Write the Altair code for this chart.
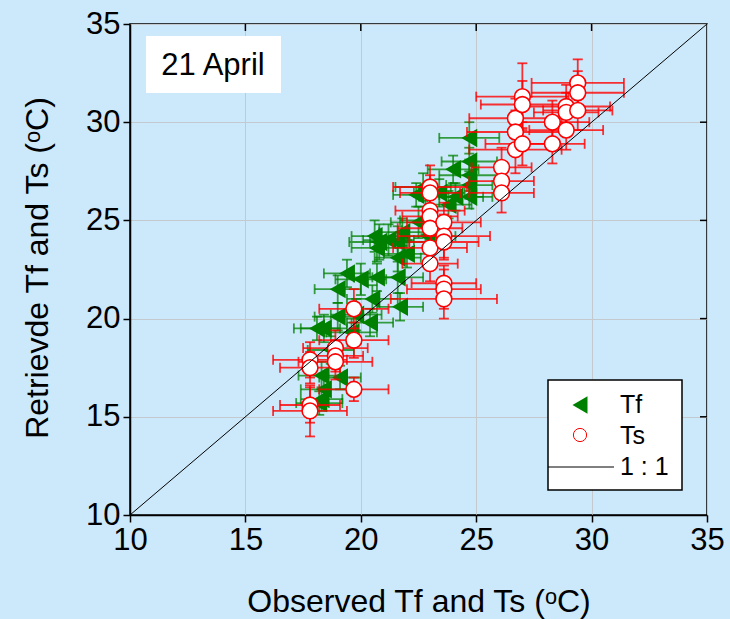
import altair as alt
import pandas as pd

# ---------------- data ----------------
tf_x = [24.7, 24.7, 24.0, 24.7, 24.7, 24.1, 24.7, 22.7, 22.4, 22.8, 22.5, 21.8, 20.8, 20.7,
        21.6, 21.6, 21.6, 20.7, 20.0, 19.0, 20.5, 21.7, 19.8, 19.0, 20.4, 19.6, 18.1, 18.4,
        18.3, 19.1, 18.4, 18.3, 18.2, 23.4, 23.8, 22.9, 21.2, 22.0, 20.6, 18.7, 19.4]
tf_y = [29.2, 28.0, 27.6, 27.3, 26.8, 26.2, 26.2, 26.7, 26.3, 25.0, 24.9, 24.4, 23.9, 23.6,
        23.9, 23.1, 22.1, 22.1, 22.0, 21.5, 21.0, 20.6, 20.2, 20.1, 19.8, 19.3, 19.5, 19.5,
        17.1, 17.0, 16.4, 15.9, 15.7, 26.4, 25.8, 24.2, 24.0, 23.3, 24.2, 18.4, 22.3]
tf_xerr = [1.3, 1.2, 1.1, 1.3, 1.0, 1.2, 1.0, 1.2, 1.0, 1.1, 1.2, 1.0, 1.3, 1.1,
           1.2, 1.0, 1.1, 1.0, 1.1, 1.0, 1.1, 1.0, 1.1, 1.0, 1.0, 1.1, 1.0, 1.0,
           1.0, 0.9, 1.0, 0.9, 1.0, 1.1, 1.0, 1.2, 1.1, 1.0, 1.0, 1.0, 1.0]
tf_yerr = [0.8, 0.7, 0.7, 0.8, 0.7, 0.7, 0.6, 0.7, 0.6, 0.7, 0.8, 0.7, 0.9, 0.7,
           0.8, 0.7, 0.8, 0.7, 0.8, 0.7, 0.7, 0.7, 0.8, 0.7, 0.7, 0.7, 0.6, 0.7,
           0.7, 0.6, 0.7, 0.6, 0.6, 0.7, 0.7, 0.8, 0.8, 0.7, 0.8, 0.7, 0.7]

ts_x = [17.8, 17.8, 17.8, 17.8, 18.9, 18.9, 18.9, 19.7, 19.7, 19.7, 23.0, 23.0, 23.0, 23.0,
        23.0, 23.0, 23.0, 23.6, 23.6, 23.6, 23.6, 23.6, 23.6, 26.1, 26.1, 26.1, 26.7, 26.7,
        26.7, 27.0, 27.0, 27.0, 28.3, 28.3, 28.9, 28.9, 28.9, 29.4, 29.4, 29.4]
ts_y = [17.9, 17.5, 15.6, 15.3, 18.5, 18.1, 17.8, 20.5, 18.9, 16.4, 26.7, 26.4, 25.5, 25.2,
        24.6, 23.6, 22.8, 24.9, 24.2, 23.9, 21.8, 21.5, 21.0, 27.7, 27.0, 26.4, 30.2, 29.5,
        28.6, 31.3, 30.9, 28.9, 30.0, 28.9, 30.8, 30.5, 29.6, 32.0, 31.5, 30.6]
ts_xerr = [1.6, 1.3, 1.3, 1.6, 1.4, 1.2, 1.6, 1.5, 1.5, 1.5, 1.6, 1.3, 1.5, 1.2,
           1.4, 1.6, 1.2, 1.6, 2.0, 1.5, 1.4, 1.6, 2.3, 1.3, 1.4, 1.4, 2.0, 2.1,
           2.0, 2.0, 1.8, 1.6, 1.6, 1.4, 1.9, 1.4, 1.6, 2.0, 2.0, 1.5]
ts_yerr = [0.9, 0.8, 0.9, 1.3, 0.9, 0.8, 0.9, 1.0, 0.9, 0.6, 1.1, 0.9, 1.0, 0.9,
           1.0, 0.8, 0.9, 1.0, 1.1, 0.9, 0.9, 1.0, 1.0, 1.0, 0.9, 1.0, 1.0, 1.1,
           1.2, 1.7, 1.2, 1.1, 1.1, 1.0, 1.1, 1.0, 1.0, 1.2, 1.1, 1.0]

line_vals = [10, 35]
axis_ticks = [10, 15, 20, 25, 30, 35]
inner_ticks = [15, 20, 25, 30]
legend_labels = ["Tf", "Ts", "1 : 1"]

# ---------------- styling ----------------
FONT = "Liberation Sans"
BG = "#cce9fb"
GREEN = "#008000"
RED = "#ff0000"
W, H = 577, 491

xs = alt.Scale(domain=[10, 35], nice=False, zero=False)
ys = alt.Scale(domain=[10, 35], nice=False, zero=False)

common_axis = dict(values=axis_ticks, tickSize=7, tickWidth=1.5, tickColor="black",
                   domainColor="black", domainWidth=1.5, labelFont=FONT, labelFontSize=31,
                   labelColor="black", grid=True, gridColor="#c3c9cd", gridWidth=1,
                   titleFont=FONT, titleFontSize=32, titleFontWeight="normal",
                   titleColor="black", labelFlush=False, titleAlign="center",
                   titleBaseline="middle")
x_axis = alt.Axis(title="Observed Tf and Ts (ᵒC)", labelPadding=3,
                  titleX=W / 2, titleY=86, **common_axis)
y_axis = alt.Axis(title="Retrievde Tf and Ts (ᵒC)", labelPadding=3,
                  titleX=-93, titleY=H / 2 - 2, titleAngle=270, **common_axis)

tf = pd.DataFrame({"x": tf_x, "y": tf_y, "xe": tf_xerr, "ye": tf_yerr})
ts = pd.DataFrame({"x": ts_x, "y": ts_y, "xe": ts_xerr, "ye": ts_yerr})


def X(f):
    return alt.X(f, type="quantitative", scale=xs, axis=x_axis)


def Y(f):
    return alt.Y(f, type="quantitative", scale=ys, axis=y_axis)


def err_layers(df, color, opacity):
    b = alt.Chart(df).transform_calculate(
        xlo="datum.x - datum.xe", xhi="datum.x + datum.xe",
        ylo="datum.y - datum.ye", yhi="datum.y + datum.ye")
    h = b.mark_rule(color=color, strokeWidth=1.8, opacity=opacity).encode(
        x=X("xlo"), x2="xhi", y=Y("y"))
    v = b.mark_rule(color=color, strokeWidth=1.8, opacity=opacity).encode(
        x=X("x"), y=Y("ylo"), y2="yhi")
    caps = []
    for f in ["xlo", "xhi"]:
        caps.append(b.mark_tick(orient="vertical", size=10, thickness=1.8, color=color,
                                opacity=opacity).encode(x=X(f), y=Y("y")))
    for f in ["ylo", "yhi"]:
        caps.append(b.mark_tick(orient="horizontal", size=10, thickness=1.8, color=color,
                                opacity=opacity).encode(x=X("x"), y=Y(f)))
    return [h, v] + caps


tf_err = err_layers(tf, GREEN, 0.75)
tf_pts = alt.Chart(tf).mark_point(shape="triangle-left", filled=True, color=GREEN,
                                  size=340, opacity=1).encode(x=X("x"), y=Y("y"))
ts_err = err_layers(ts, RED, 0.8)
ts_pts = alt.Chart(ts).mark_point(shape="circle", filled=True, fill="white", stroke=RED,
                                  strokeWidth=1.6, size=250, opacity=1).encode(
    x=X("x"), y=Y("y"))

one_line = alt.Chart(pd.DataFrame({"x": line_vals, "y": line_vals})).mark_line(
    color="black", strokeWidth=1).encode(x=X("x"), y=Y("y"))

# inward ticks on top and right
tdf = pd.DataFrame({"v": inner_ticks})
top_ticks = alt.Chart(tdf).mark_rule(color="black", strokeWidth=1.5).encode(
    x=X("v"), y=alt.value(0), y2=alt.value(7))
right_ticks = alt.Chart(tdf).mark_rule(color="black", strokeWidth=1.5).encode(
    y=Y("v"), x=alt.value(W), x2=alt.value(W - 7))

# "21 April" box
one = pd.DataFrame({"a": [0]})
date_box = alt.Chart(one).mark_rect(fill="white", stroke=None).encode(
    x=alt.value(16), x2=alt.value(151), y=alt.value(12), y2=alt.value(69))
date_txt = alt.Chart(one).mark_text(font=FONT, fontSize=31, color="black",
                                    align="center", baseline="middle").encode(
    x=alt.value(83), y=alt.value(42), text=alt.value("21 April"))

# legend
leg_box = alt.Chart(one).mark_rect(fill="white", stroke="black", strokeWidth=1.5).encode(
    x=alt.value(418), x2=alt.value(552), y=alt.value(356), y2=alt.value(466))
leg_tri = alt.Chart(one).mark_point(shape="triangle-left", filled=True, color=GREEN,
                                    size=300, opacity=1).encode(
    x=alt.value(450), y=alt.value(381))
leg_circ = alt.Chart(one).mark_point(shape="circle", filled=True, fill="white", stroke=RED,
                                     strokeWidth=1, size=175, opacity=1).encode(
    x=alt.value(450), y=alt.value(411))
leg_line = alt.Chart(one).mark_rule(color="black", strokeWidth=1).encode(
    x=alt.value(418), x2=alt.value(484), y=alt.value(443))
leg_text = alt.Chart(pd.DataFrame({"t": legend_labels, "py": [381, 412, 443]})).mark_text(
    font=FONT, fontSize=25, color="black", align="left", baseline="middle").encode(
    x=alt.value(490), y=alt.Y("py:Q", scale=None), text="t:N")

chart = alt.layer(
    *tf_err, tf_pts, *ts_err, ts_pts, one_line, top_ticks, right_ticks,
    date_box, date_txt, leg_box, leg_line, leg_tri, leg_circ, leg_text
).properties(
    width=W, height=H,
    autosize=alt.AutoSizeParams(type="none"),
    padding={"left": 130, "top": 24, "right": 23, "bottom": 104},
).configure(background=BG).configure_view(fill=BG, stroke="black", strokeWidth=1.5)

chart.save("out.html", embed_options={"renderer": "svg", "actions": False})
